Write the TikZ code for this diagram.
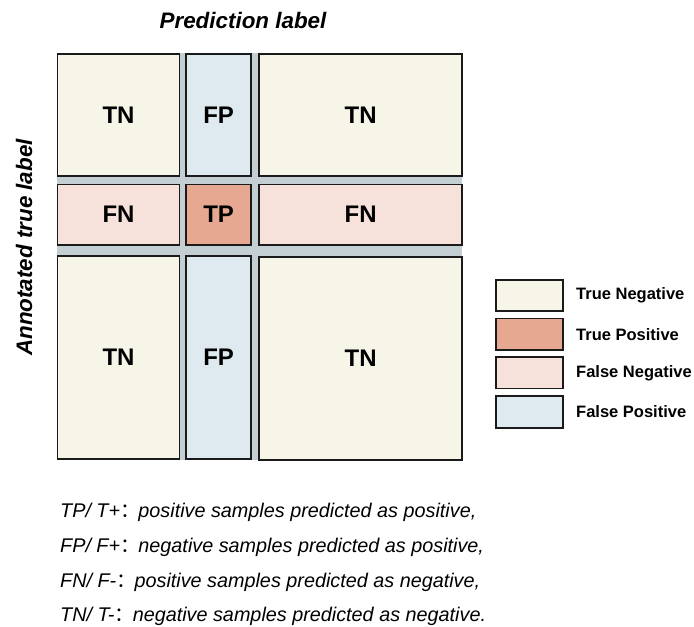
\documentclass[tikz,border=0pt]{standalone}
\usepackage{fontspec}
\setmainfont{Liberation Sans}
\newfontfamily\cjk{Noto Sans CJK SC}
\usetikzlibrary{positioning}

\definecolor{tncol}{HTML}{F7F4E8}
\definecolor{tpcol}{HTML}{E6A890}
\definecolor{fncol}{HTML}{F7E2DB}
\definecolor{fpcol}{HTML}{DFEAF0}
\definecolor{gapcol}{HTML}{C4CFD3}
\definecolor{edgecol}{HTML}{1A1A1A}

% full-width colon, pulled a little closer to the following word
\newcommand{\widecolon}{{\upshape\cjk ：}\hspace{-1.5pt}}

\tikzset{
  cell/.style={draw=edgecol, line width=1.6pt, rectangle, inner sep=0pt, outer sep=0pt,
    font=\fontsize{24}{28}\selectfont\bfseries},
  keybox/.style={draw=edgecol, line width=1.6pt, rectangle, inner sep=0pt,
    minimum width=67pt, minimum height=31.5pt},
  keytext/.style={anchor=west, inner sep=0pt, font=\fontsize{16.5}{19}\selectfont\bfseries},
  axistitle/.style={inner sep=0pt, font=\fontsize{22.4}{26}\selectfont\bfseries\itshape},
  noteline/.style={anchor=west, inner sep=0pt, font=\fontsize{19.8}{23}\selectfont\itshape}
}

\begin{document}
\begin{tikzpicture}[x=1pt, y=-1pt]
  \useasboundingbox[fill=white] (0,0) rectangle (694,627);

  % grey backing that shows through the gaps between cells
  \fill[gapcol] (57,53) rectangle (462,460);

  % first row
  \node[cell, fill=tncol, minimum width=122pt, minimum height=121.7pt] (c11) at (118.5,114.9) {TN};
  \node[cell, fill=fpcol, minimum width=65.3pt, minimum height=121.7pt] (c12) at (218.6,114.9) {FP};
  \node[cell, fill=tncol, minimum width=202.7pt, minimum height=121.7pt] (c13) at (360.6,114.9) {TN};
  % second row
  \node[cell, fill=fncol, minimum width=122pt, minimum height=60.7pt] (c21) at (118.5,214.7) {FN};
  \node[cell, fill=tpcol, minimum width=65.3pt, minimum height=60.7pt] (c22) at (218.6,214.7) {TP};
  \node[cell, fill=fncol, minimum width=202.7pt, minimum height=60.7pt] (c23) at (360.6,214.7) {FN};
  % third row
  \node[cell, fill=tncol, minimum width=122pt, minimum height=203pt] (c31) at (118.5,357.5) {TN};
  \node[cell, fill=fpcol, minimum width=65.3pt, minimum height=203pt] (c32) at (218.6,357.5) {FP};
  \node[cell, fill=tncol, minimum width=202.7pt, minimum height=203pt] (c33) at (360.6,358.6) {TN};

  % axis titles
  \node[axistitle] (xtitle) at (243,20) {Prediction label};
  \node[axistitle, rotate=90] (ytitle) at (24,247.5) {Annotated true label};

  % legend
  \node[keybox, fill=tncol] (k1) at (529.7,295.5) {};
  \node[keybox, fill=tpcol] (k2) at (529.7,334.2) {};
  \node[keybox, fill=fncol] (k3) at (529.7,372.8) {};
  \node[keybox, fill=fpcol] (k4) at (529.7,412) {};
  \node[keytext] (t1) at (576,295.5) {True Negative};
  \node[keytext] (t2) at (576,334.2) {True Positive};
  \node[keytext] (t3) at (576,372.8) {False Negative};
  \node[keytext] (t4) at (576,412) {False Positive};

  % definitions of the four outcomes
  \node[noteline] (n1) at (60,512.5) {TP/ T+\widecolon positive samples predicted as positive,};
  \node[noteline] (n2) at (60,547.5) {FP/ F+\widecolon negative samples predicted as positive,};
  \node[noteline] (n3) at (60,582.5) {FN/ F-\widecolon positive samples predicted as negative,};
  \node[noteline] (n4) at (60,616) {TN/ T-\widecolon negative samples predicted as negative.};
\end{tikzpicture}
\end{document}
